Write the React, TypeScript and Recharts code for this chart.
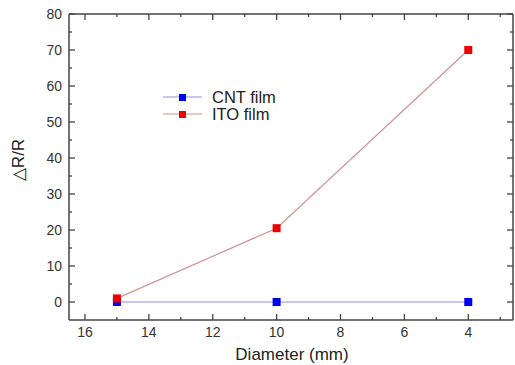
import React from 'react';
import { LineChart, Line, XAxis, YAxis } from 'recharts';

const diameters = [15, 10, 4];
const cntValues = [0, 0, 0];
const itoValues = [1, 20.5, 70];
const xTicks = [16, 15, 14, 13, 12, 11, 10, 9, 8, 7, 6, 5, 4, 3];
const yTicks = [0, 5, 10, 15, 20, 25, 30, 35, 40, 45, 50, 55, 60, 65, 70, 75, 80];

const data = diameters.map((d, i) => ({ d, cnt: cntValues[i], ito: itoValues[i] }));

const axisColor = '#444';
const textColor = '#333';
const font = 'Arial, "Liberation Sans", sans-serif';

const Square = (color: string) => (props: any) => {
  const { cx, cy, index } = props;
  if (cx == null || cy == null) return <g key={index} />;
  return <rect key={index} x={cx - 4} y={cy - 4} width={8} height={8} fill={color} />;
};

const BottomTick = (props: any) => {
  const { x, y, payload } = props;
  const major = payload.value % 2 === 0;
  return (
    <g>
      <line x1={x} x2={x} y1={y} y2={y - (major ? 6 : 3)} stroke={axisColor} strokeWidth={1.3} />
      {major && (
        <text x={x} y={y + 17} textAnchor="middle" fill={textColor} fontSize={14} fontFamily={font}>
          {payload.value}
        </text>
      )}
    </g>
  );
};

const TopTick = (props: any) => {
  const { x, y, payload } = props;
  const major = payload.value % 2 === 0;
  return <line x1={x} x2={x} y1={y} y2={y + (major ? 6 : 3)} stroke={axisColor} strokeWidth={1.3} />;
};

const LeftTick = (props: any) => {
  const { x, y, payload } = props;
  const major = payload.value % 10 === 0;
  return (
    <g>
      <line x1={x} x2={x + (major ? 6 : 3)} y1={y} y2={y} stroke={axisColor} strokeWidth={1.3} />
      {major && (
        <text x={x - 7} y={y + 5} textAnchor="end" fill={textColor} fontSize={14} fontFamily={font}>
          {payload.value}
        </text>
      )}
    </g>
  );
};

const RightTick = (props: any) => {
  const { x, y, payload } = props;
  const major = payload.value % 10 === 0;
  return <line x1={x} x2={x - (major ? 6 : 3)} y1={y} y2={y} stroke={axisColor} strokeWidth={1.3} />;
};

const legendItems = [
  { name: 'CNT film', line: '#8f8fe8', mark: '#0000ee' },
  { name: 'ITO film', line: '#d09090', mark: '#ee0000' },
];

export default function App() {
  return (
    <div style={{ position: 'absolute', left: 0, top: 0, width: 515, height: 365, overflow: 'hidden', background: '#fff' }}>
      <LineChart width={540} height={365} data={data} margin={{ top: 13, right: 26, bottom: 44, left: 29 }}>
        <XAxis
          dataKey="d"
          type="number"
          domain={[2.6, 16.5]}
          reversed
          ticks={xTicks}
          interval={0}
          allowDataOverflow
          tick={<BottomTick />}
          tickLine={false}
          tickSize={0}
          tickMargin={0}
          height={1}
          stroke={axisColor}
          strokeWidth={1.5}
        />
        <XAxis
          xAxisId="top"
          orientation="top"
          dataKey="d"
          type="number"
          domain={[2.6, 16.5]}
          reversed
          ticks={xTicks}
          interval={0}
          allowDataOverflow
          tick={<TopTick />}
          tickLine={false}
          tickSize={0}
          tickMargin={0}
          height={1}
          stroke={axisColor}
          strokeWidth={1.5}
        />
        <YAxis
          type="number"
          domain={[-5, 80]}
          ticks={yTicks}
          interval={0}
          allowDataOverflow
          tick={<LeftTick />}
          tickLine={false}
          tickSize={0}
          tickMargin={0}
          width={40}
          stroke={axisColor}
          strokeWidth={1.5}
        />
        <YAxis
          yAxisId="right"
          orientation="right"
          type="number"
          domain={[-5, 80]}
          ticks={yTicks}
          interval={0}
          allowDataOverflow
          tick={<RightTick />}
          tickLine={false}
          tickSize={0}
          tickMargin={0}
          width={1}
          stroke={axisColor}
          strokeWidth={1.5}
        />
        <Line
          dataKey="cnt"
          name="CNT film"
          stroke="#8f8fe8"
          strokeWidth={1.2}
          dot={Square('#0000ee')}
          isAnimationActive={false}
        />
        <Line
          dataKey="ito"
          name="ITO film"
          stroke="#d09090"
          strokeWidth={1.2}
          dot={Square('#ee0000')}
          isAnimationActive={false}
        />
        <g transform="translate(163, 90)">
          {legendItems.map((it, i) => (
            <g key={it.name}>
              <line x1={0} x2={39} y1={7 + i * 17} y2={7 + i * 17} stroke={it.line} strokeWidth={1.2} />
              <rect x={16} y={4 + i * 17} width={7} height={7} fill={it.mark} />
              <text x={49} y={13 + i * 17} fill="#222" fontSize={16.5} fontFamily={font}>
                {it.name}
              </text>
            </g>
          ))}
        </g>
        <text x={292} y={360} textAnchor="middle" fill="#222" fontSize={17} fontFamily={font}>
          Diameter (mm)
        </text>
        <text
          x={24}
          y={160}
          textAnchor="middle"
          fill="#222"
          fontSize={17}
          fontFamily={font}
          transform="rotate(-90 24 160)"
        >
          △R/R
        </text>
      </LineChart>
    </div>
  );
}
